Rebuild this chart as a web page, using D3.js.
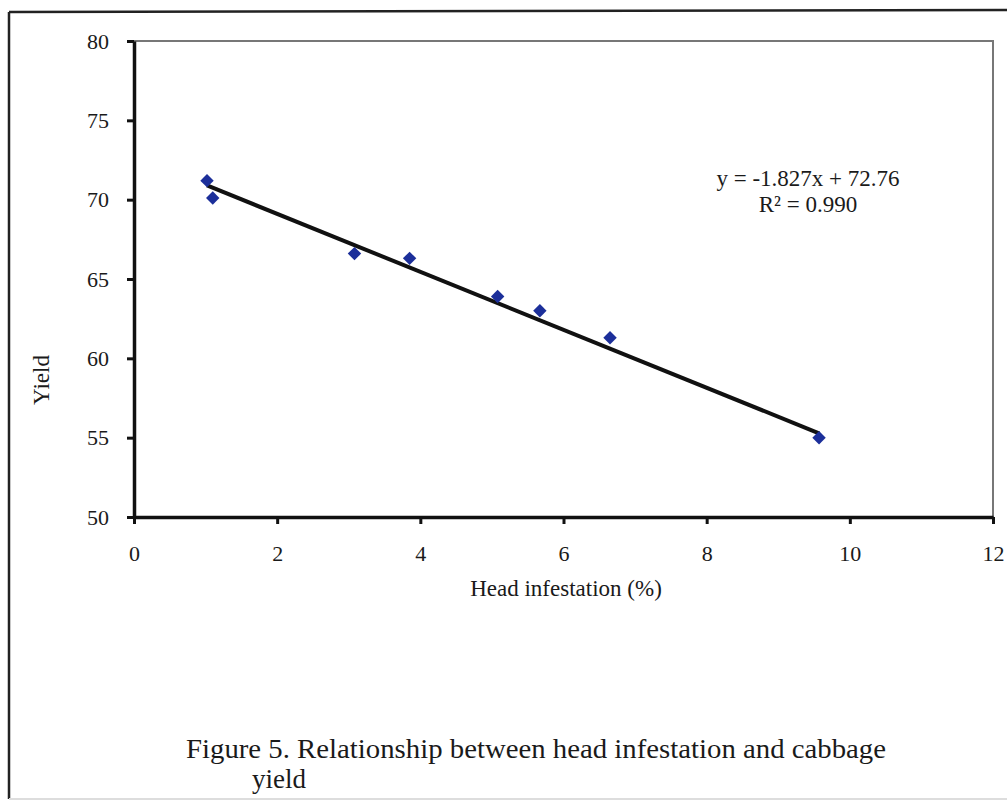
<!DOCTYPE html>
<html>
<head>
<meta charset="utf-8">
<script src="https://cdn.jsdelivr.net/npm/d3@7"></script>
<style>
  body { margin: 0; background: #fff; }
  text { font-family: "Liberation Serif", "Times New Roman", serif; fill: #1a1a1a; }
</style>
</head>
<body>
<div id="chart"></div>
<script>
var svgWidth = 1007;
var svgHeight = 804;

// data
var infestation = [1.02, 1.10, 3.08, 3.85, 5.08, 5.67, 6.65, 9.57];
var yieldValues = [71.2, 70.1, 66.6, 66.3, 63.9, 63.0, 61.3, 55.0];
var xTicks = [0, 2, 4, 6, 8, 10, 12];
var yTicks = [50, 55, 60, 65, 70, 75, 80];
var slope = -1.827;
var intercept = 72.76;
var equationLines = ["y = -1.827x + 72.76", "R\u00b2 = 0.990"];
var captionLines = ["Figure 5. Relationship between head infestation and cabbage", "yield"];

var data = infestation.map((x, i) => ({ x: x, y: yieldValues[i] }));

var plot = { left: 134, top: 41, right: 993, bottom: 517 };

var svg = d3.select("#chart")
  .append("svg")
  .attr("width", svgWidth)
  .attr("height", svgHeight);

// outer frame
svg.append("line").attr("x1", 9).attr("y1", 12).attr("x2", 1007).attr("y2", 10)
  .attr("stroke", "#222").attr("stroke-width", 2.5);
svg.append("line").attr("x1", 9).attr("y1", 12).attr("x2", 9).attr("y2", 799)
  .attr("stroke", "#222").attr("stroke-width", 2.5);
svg.append("line").attr("x1", 9).attr("y1", 799).attr("x2", 1007).attr("y2", 799)
  .attr("stroke", "#ddd").attr("stroke-width", 2);

var x = d3.scaleLinear().domain([0, 12]).range([plot.left, plot.right]);
var y = d3.scaleLinear().domain([50, 80]).range([plot.bottom, plot.top]);

// grey top and right edges of the plot area
svg.append("path")
  .attr("d", `M${plot.left},${plot.top}H${plot.right}V${plot.bottom}`)
  .attr("fill", "none")
  .attr("stroke", "#777")
  .attr("stroke-width", 2);

var bottomAxis = d3.axisBottom(x).tickValues(xTicks).tickSize(7).tickPadding(21).tickSizeOuter(0);
var leftAxis = d3.axisLeft(y).tickValues(yTicks).tickSize(7).tickPadding(18).tickSizeOuter(0);

var gx = svg.append("g")
  .attr("transform", `translate(0, ${plot.bottom})`)
  .call(bottomAxis);
var gy = svg.append("g")
  .attr("transform", `translate(${plot.left}, 0)`)
  .call(leftAxis);

[gx, gy].forEach(function(g) {
  g.select(".domain").attr("stroke", "#111").attr("stroke-width", 3.5);
  g.selectAll(".tick line").attr("stroke", "#111").attr("stroke-width", 3);
  g.selectAll(".tick text").attr("font-size", 22).attr("fill", "#1a1a1a")
    .style("font-family", "'Liberation Serif', serif");
});

// trendline over the range of the data
var xr = d3.extent(infestation);
svg.append("line")
  .attr("x1", x(xr[0])).attr("y1", y(slope * xr[0] + intercept))
  .attr("x2", x(xr[1])).attr("y2", y(slope * xr[1] + intercept))
  .attr("stroke", "#111")
  .attr("stroke-width", 4);

svg.selectAll("path.pt")
  .data(data)
  .enter()
  .append("path")
  .attr("class", "pt")
  .attr("d", d3.symbol().type(d3.symbolSquare).size(90))
  .attr("transform", d => `translate(${x(d.x)}, ${y(d.y)}) rotate(45)`)
  .attr("fill", "#1c2f9a");

svg.selectAll("text.eq")
  .data(equationLines)
  .enter()
  .append("text")
  .attr("class", "eq")
  .attr("x", 808)
  .attr("y", (d, i) => 186 + i * 26)
  .attr("text-anchor", "middle")
  .attr("font-size", 23)
  .text(d => d);

svg.append("text")
  .attr("transform", `translate(49, 380) rotate(-90)`)
  .attr("text-anchor", "middle")
  .attr("font-size", 23)
  .text("Yield");

svg.append("text")
  .attr("x", 566)
  .attr("y", 596)
  .attr("text-anchor", "middle")
  .attr("font-size", 23)
  .text("Head infestation (%)");

svg.selectAll("text.cap")
  .data(captionLines)
  .enter()
  .append("text")
  .attr("class", "cap")
  .attr("x", (d, i) => i === 0 ? 186 : 252)
  .attr("y", (d, i) => 758 + i * 30)
  .attr("font-size", 27)
  .attr("textLength", (d, i) => i === 0 ? 700 : null)
  .attr("lengthAdjust", "spacingAndGlyphs")
  .text(d => d);
</script>
</body>
</html>
